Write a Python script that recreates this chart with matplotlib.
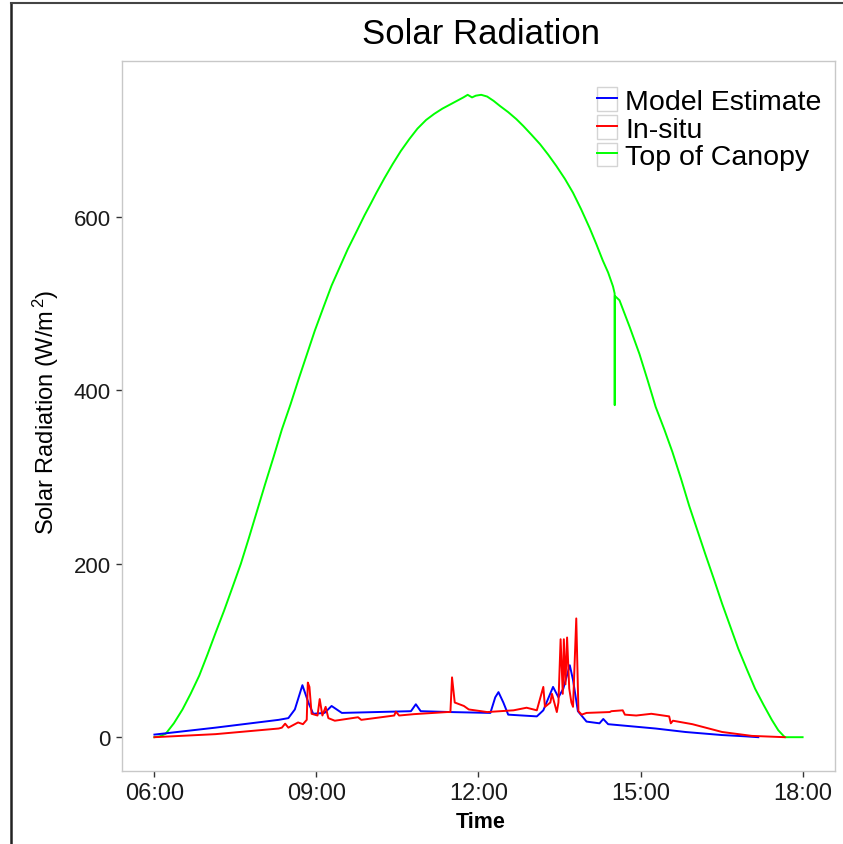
import matplotlib
matplotlib.use("Agg")
import matplotlib.pyplot as plt
from matplotlib.legend_handler import HandlerLine2D
from matplotlib.patches import Rectangle
from matplotlib.lines import Line2D

plt.rcParams['font.family'] = ['Liberation Sans', 'DejaVu Sans']
plt.rcParams['mathtext.fontset'] = 'custom'
plt.rcParams['mathtext.rm'] = 'Liberation Sans'
plt.rcParams['mathtext.it'] = 'Liberation Sans:italic'

# Top of canopy radiation (hours, W/m2)
toc_time = [6.0, 6.1, 6.21, 6.36, 6.52, 6.67, 6.83, 6.98, 7.13, 7.29, 7.44,
            7.60, 7.75, 7.90, 8.05, 8.21, 8.36, 8.52, 8.67, 8.82, 8.97, 9.13,
            9.28, 9.43, 9.58, 9.74, 9.89, 10.01, 10.11, 10.26, 10.41, 10.56,
            10.72, 10.87, 11.03, 11.18, 11.33, 11.48, 11.60, 11.72, 11.80,
            11.88, 11.95, 12.05, 12.16, 12.28, 12.40, 12.55, 12.70, 12.83,
            12.98, 13.14, 13.29, 13.44, 13.60, 13.75, 13.90, 14.06, 14.18,
            14.30, 14.40, 14.49, 14.52, 14.522, 14.525, 14.61, 14.80, 14.98,
            15.13, 15.28, 15.44, 15.59, 15.75, 15.90, 16.05, 16.20, 16.36,
            16.51, 16.66, 16.81, 16.97, 17.12, 17.28, 17.43, 17.55, 17.67, 18.0]
toc_vals = [0, 1, 4, 16, 32, 50, 71, 95, 120, 146, 172,
            200, 230, 261, 292, 324, 355, 384, 413, 441, 469, 496,
            521, 542, 563, 583, 602, 616, 628, 645, 661, 676,
            690, 702, 712, 719, 725, 730, 734, 738, 741,
            738, 740, 741, 739, 734, 728, 721, 713, 705,
            695, 684, 672, 659, 644, 628, 609, 587, 569,
            550, 536, 520, 512, 383, 509, 504, 473, 442,
            412, 381, 355, 329, 298, 267, 239, 211, 182,
            154, 128, 102, 78, 56, 37, 20, 8, 0, 0]

# Model estimate
model_time = [6.0, 7.13, 8.30, 8.48, 8.60, 8.74, 8.85, 8.94, 9.15, 9.28, 9.47,
              10.75, 10.84, 10.93, 11.48, 12.22, 12.31, 12.37, 12.46, 12.55,
              13.08, 13.20, 13.38, 13.48, 13.57, 13.69, 13.75, 13.84, 14.0,
              14.24, 14.31, 14.40, 15.28, 15.83, 16.50, 16.94, 17.18]
model_vals = [3, 11, 20, 22, 32, 60, 40, 27, 28, 36, 28,
              30, 38, 30, 29, 28, 46, 52, 40, 26,
              24, 31, 58, 46, 56, 83, 66, 30, 18,
              16, 21, 15, 10, 6, 2.5, 1, 0]

# In-situ measurement
insitu_time = [6.0, 7.13, 8.30, 8.36, 8.42, 8.48, 8.66, 8.75, 8.82, 8.84, 8.87,
               8.91, 9.02, 9.06, 9.11, 9.17, 9.22, 9.34, 9.77, 9.83, 10.44,
               10.47, 10.53, 10.81, 11.42, 11.48, 11.51, 11.56, 11.73, 11.82,
               12.16, 12.65, 12.89, 13.08, 13.20, 13.23, 13.33, 13.36, 13.45,
               13.48, 13.52, 13.56, 13.58, 13.61, 13.64, 13.68, 13.72, 13.75,
               13.81, 13.85, 13.91, 14.0, 14.43, 14.46, 14.67, 14.71, 14.92,
               15.2, 15.53, 15.56, 15.6, 15.96, 16.51, 17.06, 17.67]
insitu_vals = [0, 3.5, 10, 11, 15.6, 11, 17, 15, 20, 63, 58,
               27, 25, 44, 25, 35, 22, 19, 23, 20, 25,
               29.5, 25, 26.6, 29, 29, 69, 40, 36, 32,
               29, 31, 34, 31, 58, 35, 40, 50, 29,
               40, 113, 50, 113, 61, 115, 56, 40, 35,
               137, 30, 26, 28, 29, 30, 31, 26, 25,
               27, 24, 16, 19, 15, 6, 1.5, 0]

x_ticks = [6, 9, 12, 15, 18]
x_labels = ['06:00', '09:00', '12:00', '15:00', '18:00']
y_ticks = [0, 200, 400, 600]


class BoxedLine(HandlerLine2D):
    # legend key with a light grey box around it, like ggplot
    def create_artists(self, legend, orig_handle, xdescent, ydescent,
                       width, height, fontsize, trans):
        arts = super().create_artists(legend, orig_handle, xdescent, ydescent,
                                      width, height, fontsize, trans)
        box = Rectangle((-xdescent, -ydescent), width, height, fill=False,
                        edgecolor='#d4d4d4', lw=1.0, transform=trans)
        return [box] + list(arts)


fig = plt.figure(figsize=(8.43, 8.45), dpi=100)
ax = fig.add_axes([122 / 843, 1 - 772 / 845, 713 / 843, 710 / 845])

l_toc, = ax.plot(toc_time, toc_vals, color='#00ff00', lw=1.4)
l_mod, = ax.plot(model_time, model_vals, color='#0000ff', lw=1.4)
l_ins, = ax.plot(insitu_time, insitu_vals, color='#ff0000', lw=1.4)

ax.set_xlim(5.4, 18.6)
ax.set_ylim(-39, 780)
ax.set_xticks(x_ticks)
ax.set_xticklabels(x_labels)
ax.set_yticks(y_ticks)
ax.tick_params(labelsize=16, length=4, width=1, color='#333333',
               labelcolor='#1a1a1a', pad=4)
ax.tick_params(axis='x', labelsize=17)
for s in ax.spines.values():
    s.set_color('#c8c8c8')
    s.set_linewidth(1)

leg = ax.legend([l_mod, l_ins, l_toc],
                ['Model Estimate', 'In-situ', 'Top of Canopy'],
                loc='upper right', bbox_to_anchor=(0.981, 0.963),
                frameon=False, fontsize=20.5, handlelength=0.7,
                handleheight=0.9, handletextpad=0.3, labelspacing=0,
                borderpad=0, borderaxespad=0,
                handler_map={Line2D: BoxedLine()})

fig.text(481 / 843, 1 - 35 / 845, 'Solar Radiation', ha='center',
         va='center', fontsize=25)
fig.text(481 / 843, 1 - 823 / 845, 'Time', ha='center', va='center',
         fontsize=15.5, fontweight='bold')
fig.text(46 / 843, 1 - 412 / 845, 'Solar Radiation (W/m$^{\\,2}$)',
         ha='center', va='center', rotation=90, fontsize=17)

# screenshot border
fig.add_artist(Line2D([11 / 843, 11 / 843], [0, 1 - 4 / 845],
                      color='#222222', lw=1.8, transform=fig.transFigure))
fig.add_artist(Line2D([11 / 843, 1], [1 - 4 / 845, 1 - 4 / 845],
                      color='#444444', lw=1.5, transform=fig.transFigure))

fig.savefig('out.png', dpi=100, facecolor='white')
